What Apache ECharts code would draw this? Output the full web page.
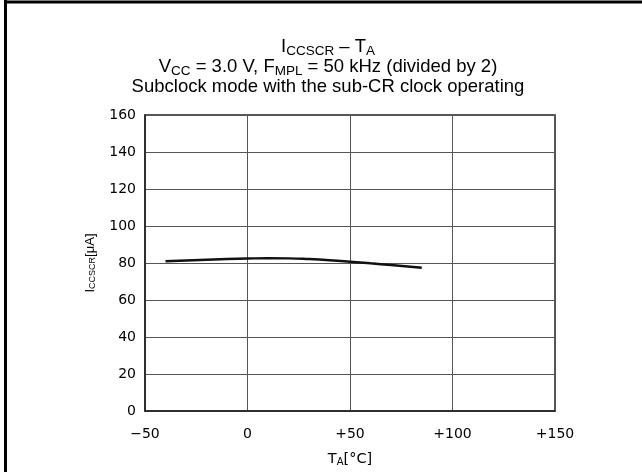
<!DOCTYPE html>
<html>
<head>
<meta charset="utf-8">
<script src="https://cdn.jsdelivr.net/npm/echarts@6/dist/echarts.min.js"></script>
<style>
html,body{margin:0;padding:0;background:#fff;}
#c{width:642px;height:472px;}
</style>
</head>
<body>
<div id="c"></div>
<script>
// Data
const temps = [-40, -20, 0, 10, 20, 30, 40, 50, 60, 70, 85];
const current = [81.0, 81.8, 82.4, 82.6, 82.5, 82.1, 81.5, 80.7, 79.8, 78.9, 77.4];
const xTicks = [-50, 0, 50, 100, 150];
const yTicks = [0, 20, 40, 60, 80, 100, 120, 140, 160];
const titleLines = [
  '{n|I}{s|CCSCR}{n| – T}{s|A}',
  '{n|V}{s|CC}{n| = 3.0 V, F}{s|MPL}{n| = 50 kHz (divided by 2)}',
  '{n|Subclock mode with the sub-CR clock operating}'
];

const FONT = '"Liberation Sans", Arial, sans-serif';
const WIDE = '"DejaVu Sans", sans-serif';
const chart = echarts.init(document.getElementById('c'), null, {renderer: 'canvas'});

const data = temps.map((t, i) => [t, current[i]]);

const titleRich = {
  n: {fontFamily: FONT, fontSize: 18.5, fontWeight: 'normal', color: '#000', lineHeight: 20, verticalAlign: 'top'},
  s: {fontFamily: FONT, fontSize: 13.5, fontWeight: 'normal', color: '#000', lineHeight: 20, padding: [7, 0, 0, 0], verticalAlign: 'top'}
};
const titleTops = [37, 57, 77];

chart.setOption({
  animation: false,
  backgroundColor: '#fff',
  title: titleLines.map((t, i) => ({
    left: 328,
    top: titleTops[i],
    padding: 0,
    textAlign: 'center',
    text: t,
    textStyle: {fontFamily: FONT, fontSize: 18.5, fontWeight: 'normal', color: '#000', rich: titleRich}
  })),
  grid: {
    left: 145, right: 87, top: 115, bottom: 61,
    show: true, borderColor: '#222', borderWidth: 1.5, containLabel: false
  },
  xAxis: {
    type: 'value',
    min: -50, max: 150, interval: 50,
    axisLine: {show: true, onZero: false, lineStyle: {color: '#222', width: 1.5}},
    axisTick: {show: false},
    splitLine: {show: true, lineStyle: {color: '#555', width: 1}},
    axisLabel: {
      fontFamily: WIDE, fontSize: 14, color: '#000', margin: 16,
      formatter: v => v > 0 ? '+' + v : (v < 0 ? '\u2212' + Math.abs(v) : String(v))
    },
    name: '{n|T}{s|A}{n|[°C]}',
    nameLocation: 'middle',
    nameGap: 40,
    nameTextStyle: {
      fontFamily: WIDE,
      rich: {
        n: {fontFamily: WIDE, fontSize: 14.5, color: '#000', lineHeight: 16, verticalAlign: 'bottom'},
        s: {fontFamily: WIDE, fontSize: 10, color: '#000', lineHeight: 16, verticalAlign: 'bottom'}
      }
    }
  },
  yAxis: {
    type: 'value',
    min: 0, max: 160, interval: 20,
    axisLine: {show: true, onZero: false, lineStyle: {color: '#222', width: 1.5}},
    axisTick: {show: false},
    splitLine: {show: true, lineStyle: {color: '#555', width: 1}},
    axisLabel: {fontFamily: WIDE, fontSize: 14, color: '#000', margin: 9},
    name: '{n|I}{s|CCSCR}{n|[μA]}',
    nameLocation: 'middle',
    nameGap: 48,
    nameRotate: 90,
    nameTextStyle: {
      fontFamily: FONT,
      rich: {
        n: {fontFamily: FONT, fontSize: 13, color: '#000', lineHeight: 14, verticalAlign: 'bottom'},
        s: {fontFamily: FONT, fontSize: 9, color: '#000', lineHeight: 14, verticalAlign: 'bottom'}
      }
    }
  },
  series: [{
    type: 'line',
    data: data,
    smooth: 0.5,
    showSymbol: false,
    symbol: 'none',
    lineStyle: {color: '#111', width: 2.5}
  }],
  graphic: [
    {type: 'line', shape: {x1: 5.5, y1: 0, x2: 5.5, y2: 472}, style: {stroke: '#000', lineWidth: 3}},
    {type: 'line', shape: {x1: 4, y1: 2, x2: 642, y2: 2}, style: {stroke: '#000', lineWidth: 3}}
  ]
});
</script>
</body>
</html>
